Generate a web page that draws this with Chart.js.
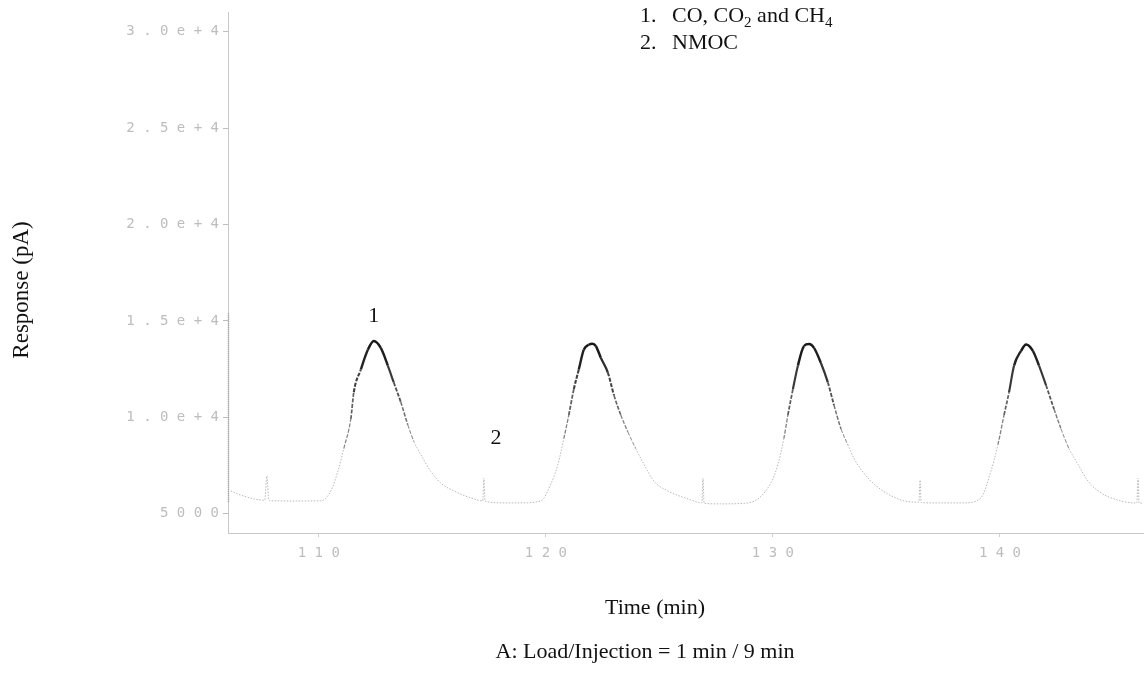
<!DOCTYPE html>
<html>
<head>
<meta charset="utf-8">
<script src="https://cdn.jsdelivr.net/npm/chart.js@4/dist/chart.umd.min.js"></script>
<style>
  html, body { margin: 0; padding: 0; background: #fff; }
  #wrap { width: 1147px; height: 675px; position: relative; }
</style>
</head>
<body>
<div id="wrap"><canvas id="chart"></canvas></div>
<script>
// Retention time (min) of each sampled point of the FID trace
const traceTime = [
  106.12, 106.56, 107.14, 107.62, 107.71, 107.80, 107.89, 109.00, 110.09, 110.53,
  110.84, 111.10, 111.41, 111.54, 111.85, 112.16, 112.42, 112.73, 113.04, 113.30,
  113.61, 113.92, 114.19, 114.49, 114.93, 115.37, 115.95, 116.70, 117.22, 117.27,
  117.32, 118.15, 118.90, 119.78, 120.22, 120.53, 120.79, 121.01, 121.23, 121.45,
  121.67, 121.89, 122.05, 122.20, 122.42, 122.73, 123.00, 123.30, 123.61, 123.96,
  124.32, 124.76, 125.37, 126.26, 126.87, 126.92, 126.97, 127.71, 128.90, 129.91,
  130.22, 130.48, 130.66, 130.88, 131.10, 131.37, 131.59, 131.81, 132.11, 132.42,
  132.69, 133.00, 133.30, 133.57, 134.01, 134.45, 135.07, 135.77, 136.43, 136.48,
  136.53, 136.96, 138.41, 139.16, 139.60, 139.91, 140.18, 140.40, 140.62, 140.93,
  141.15, 141.45, 141.72, 142.03, 142.38, 142.69, 143.04, 143.44, 143.88, 144.45,
  145.02, 145.90, 146.03, 146.08, 146.13, 146.25
];
// Detector response (pA) at those times
const traceResponse = [
  6180, 5970, 5770, 5700, 6950, 5690, 5670, 5660, 5670, 6180,
  7200, 8380, 9920, 11300, 12480, 13500, 13960, 13600, 12680, 11810,
  10790, 9610, 8740, 8070, 7200, 6590, 6180, 5820, 5670, 6840,
  5650, 5560, 5560, 5670, 6540, 7560, 8890, 10120, 11450, 12480,
  13500, 13760, 13820, 13700, 13090, 12320, 11140, 10120, 9250, 8380,
  7560, 6690, 6180, 5770, 5560, 6840, 5540, 5510, 5560, 6590,
  7560, 8890, 10120, 11450, 12680, 13700, 13800, 13600, 12830, 11810,
  10630, 9400, 8580, 7870, 7100, 6540, 6020, 5670, 5600, 6740,
  5580, 5560, 5560, 5820, 7200, 8580, 10120, 11300, 12680, 13450,
  13780, 13450, 12680, 11660, 10430, 9400, 8380, 7560, 6690, 6080,
  5770, 5560, 5560, 6840, 5550, 5550
];

// Axis ticks
const xTickValues = [110, 120, 130, 140];
const xTickLabels = ['110', '120', '130', '140'];
const yTickValues = [5000, 10000, 15000, 20000, 25000, 30000];
const yTickLabels = ['5000', '1.0e+4', '1.5e+4', '2.0e+4', '2.5e+4', '3.0e+4'];

// Peak numbers and where they sit (time, response)
const peakLabelText = ['1', '2'];
const peakLabelTime = [112.42, 117.80];
const peakLabelResponse = [15250, 8890];

// Legend entries: number, then text runs [text, isSubscript]
const legendNumbers = ['1.', '2.'];
const legendRuns = [
  [['CO, CO', false], ['2', true], [' and CH', false], ['4', true]],
  [['NMOC', false]]
];

const xTitle = 'Time (min)';
const yTitle = 'Response (pA)';
const caption = 'A: Load/Injection = 1 min / 9 min';

const points = traceTime.map((t, i) => ({ x: t, y: traceResponse[i] }));

const spaced = s => s.split('').join(' ');
const SERIF = '"Liberation Serif", "DejaVu Serif", serif';

// how far up the peak a segment lies (0 at baseline, 1 at apex)
function level(ctx) {
  const v = Math.max(ctx.p0.parsed.y, ctx.p1.parsed.y);
  return Math.min(1, Math.max(0, (v - 6000) / 7800));
}
// shade of the trace: faint near the baseline, dark near the apex
function shade(ctx) {
  const f = level(ctx);
  if (f < 0.4) return '#b8b8b8';
  const g = Math.round(160 - (f - 0.4) / 0.6 * 135);
  return `rgb(${g},${g},${g})`;
}
function width(ctx) {
  const f = level(ctx);
  return f < 0.4 ? 1 : 1 + (f - 0.4) / 0.6 * 1.5;
}
function dash(ctx) {
  const f = level(ctx);
  return f < 0.4 ? [1.5, 1.5] : (f < 0.85 ? [4, 1.5] : []);
}

const annotations = {
  id: 'annotations',
  beforeDatasetsDraw(chart) {
    // darker stretch of the response axis
    const { ctx, scales: { x, y } } = chart;
    ctx.save();
    ctx.strokeStyle = '#a0a0a0';
    ctx.lineWidth = 1.5;
    ctx.setLineDash([1, 1]);
    ctx.beginPath();
    ctx.moveTo(x.left + 0.5, y.getPixelForValue(15400));
    ctx.lineTo(x.left + 0.5, y.getPixelForValue(5600));
    ctx.stroke();
    ctx.restore();
  },
  afterDraw(chart) {
    const { ctx, scales: { x, y } } = chart;
    ctx.save();
    ctx.fillStyle = '#111';
    ctx.font = `22px ${SERIF}`;
    ctx.textAlign = 'center';
    ctx.textBaseline = 'middle';

    // peak numbers
    peakLabelText.forEach((txt, i) => {
      ctx.fillText(txt, x.getPixelForValue(peakLabelTime[i]), y.getPixelForValue(peakLabelResponse[i]));
    });

    // axis titles and caption
    ctx.fillText(xTitle, 655, 608);
    ctx.fillText(caption, 645, 652);
    ctx.save();
    ctx.translate(22, 290);
    ctx.rotate(-Math.PI / 2);
    ctx.font = `23px ${SERIF}`;
    ctx.fillText(yTitle, 0, 0);
    ctx.restore();

    // legend
    ctx.textAlign = 'left';
    ctx.textBaseline = 'alphabetic';
    const rows = [22, 49];
    legendNumbers.forEach((num, r) => {
      ctx.font = `22px ${SERIF}`;
      ctx.fillText(num, 640, rows[r]);
      let cx = 672;
      legendRuns[r].forEach(([txt, sub]) => {
        ctx.font = sub ? `15px ${SERIF}` : `22px ${SERIF}`;
        ctx.fillText(txt, cx, rows[r] + (sub ? 5 : 0));
        cx += ctx.measureText(txt).width;
      });
    });
    ctx.restore();
  }
};

new Chart(document.getElementById('chart'), {
  type: 'line',
  data: {
    datasets: [{
      data: points,
      borderColor: '#b8b8b8',
      borderWidth: 1,
      pointRadius: 0,
      fill: false,
      cubicInterpolationMode: 'monotone',
      segment: { borderColor: shade, borderWidth: width, borderDash: dash }
    }]
  },
  options: {
    responsive: true,
    maintainAspectRatio: false,
    animation: false,
    layout: { padding: { left: 0, right: 4, top: 5, bottom: 0 } },
    plugins: { legend: { display: false }, tooltip: { enabled: false } },
    scales: {
      x: {
        type: 'linear',
        min: 106,
        max: 146.3,
        afterBuildTicks: s => { s.ticks = xTickValues.map(v => ({ value: v })); },
        afterFit: s => { s.height = 142; },
        ticks: {
          callback: (v) => spaced(xTickLabels[xTickValues.indexOf(v)] || ''),
          font: { family: '"DejaVu Sans Mono", monospace', size: 14 },
          color: '#bdbdbd',
          padding: 8,
          maxRotation: 0
        },
        grid: { drawOnChartArea: false, tickLength: 4, color: '#d0d0d0' },
        border: { color: '#c8c8c8', dash: [2, 2] }
      },
      y: {
        min: 4000,
        max: 31000,
        afterBuildTicks: s => { s.ticks = yTickValues.map(v => ({ value: v })); },
        afterFit: s => { s.width = 228; },
        ticks: {
          callback: (v) => spaced(yTickLabels[yTickValues.indexOf(v)] || ''),
          font: { family: '"DejaVu Sans Mono", monospace', size: 14 },
          color: '#bdbdbd',
          padding: 4
        },
        grid: { drawOnChartArea: false, tickLength: 5, color: '#bdbdbd' },
        border: { color: '#c8c8c8', dash: [2, 2] }
      }
    }
  },
  plugins: [annotations]
});
</script>
</body>
</html>
